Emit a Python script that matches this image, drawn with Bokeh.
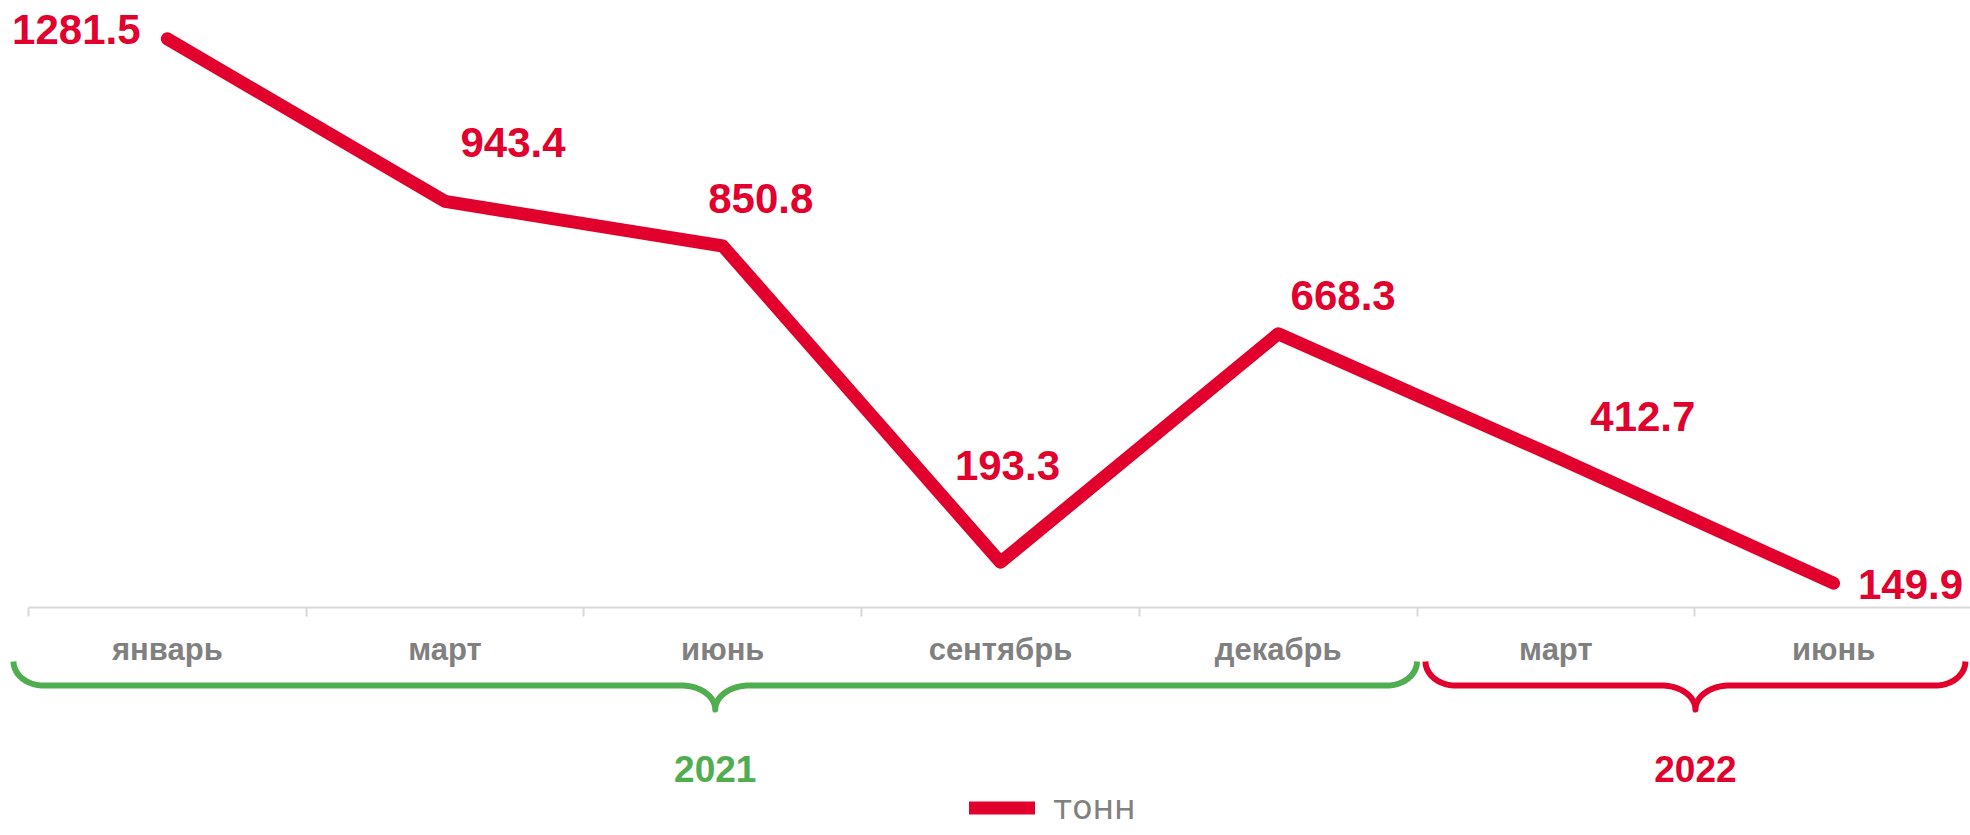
import numpy as np
from bokeh.plotting import figure
from bokeh.models import Range1d, FixedTicker
from bokeh.core.properties import value
from bokeh.embed import file_html
from bokeh.resources import INLINE

# ---------------- data ----------------
months = ["январь", "март", "июнь", "сентябрь", "декабрь", "март", "июнь"]
values = [1281.5, 943.4, 850.8, 193.3, 668.3, 412.7, 149.9]
years = ["2021", "2022"]
year_spans = [(0, 5), (5, 7)]          # bands covered by each year's brace
unit_label = "тонн"

# ---------------- style ----------------
RED = "#E2002D"
GREEN = "#50AE50"
GRAY = "#808080"
AXIS_GRAY = "#D9D9D9"
FONT = "Liberation Sans"

W, H = 1970, 835
band_px = 277.7          # width of one category band, px
left_px = 28.0           # frame x of the first band edge, px
axis_value = 100.0       # value at the x axis line
ypu = 0.4811             # px per unit on the value scale
axis_px = 606.7          # frame y of the axis line from top, px

x0 = -left_px / band_px
x1 = x0 + W / band_px
y1 = axis_value + axis_px / ypu
y0 = y1 - H / ypu

def vx(px):
    return x0 + px / band_px

def vy(py):
    return y1 - py / ypu

p = figure(width=W, height=H, x_range=Range1d(x0, x1), y_range=Range1d(y0, y1),
           output_backend="svg", toolbar_location=None, y_axis_location=None,
           min_border=0, outline_line_color=None, background_fill_color="white",
           border_fill_color="white")
p.grid.visible = False

xs = [i + 0.5 for i in range(len(values))]

# ---------------- axis ----------------
ax = p.xaxis[0]
ax.fixed_location = axis_value
ax.bounds = (0, len(months))
ax.ticker = FixedTicker(ticks=xs, minor_ticks=list(range(len(months) + 1)))
ax.major_label_overrides = {x: m for x, m in zip(xs, months)}
ax.major_tick_line_color = None
ax.major_tick_out = 0
ax.major_tick_in = 0
ax.minor_tick_line_color = AXIS_GRAY
ax.minor_tick_line_width = 2
ax.minor_tick_out = 9
ax.minor_tick_in = 0
ax.axis_line_color = AXIS_GRAY
ax.axis_line_width = 2
ax.major_label_standoff = 16
ax.major_label_text_font = FONT
ax.major_label_text_font_style = "bold"
ax.major_label_text_font_size = "31px"
ax.major_label_text_color = GRAY
ax.level = "underlay"

# ---------------- line ----------------
p.line(xs, values, line_width=13, line_color=RED, line_cap="round",
       line_join="round", legend_label=unit_label)

# ---------------- value labels ----------------
label_fs = 42
label_offsets = [(-91, -9), (68, -59), (38, -47), (7, -97), (65, -38), (87, -40), (77, 1)]
p.text(x=xs, y=values, text=[f"{v:.1f}" for v in values],
       x_offset=[o[0] for o in label_offsets],
       y_offset=[o[1] for o in label_offsets],
       text_align="center", text_baseline="alphabetic",
       text_font=value(FONT), text_font_style="bold",
       text_font_size=f"{label_fs}px", text_color=RED)

# ---------------- year braces ----------------
brace_pads = [(-15, 0), (8.5, -7)]
brace_colors = [GREEN, RED]
top, mid, tip = 661.0, 685.0, 709.0   # frame px
rx_e, rx_t, ry = 30.0, 34.0, 24.0
t = np.linspace(0, np.pi / 2, 24)
year_x = []
for (a, b), (pa, pb), c in zip(year_spans, brace_pads, brace_colors):
    xa = left_px + a * band_px + pa
    xb = left_px + b * band_px + pb
    xm = (xa + xb) / 2
    bx = np.concatenate([
        xa + rx_e - rx_e * np.cos(t),
        xm - rx_t + rx_t * np.sin(t),
        xm + rx_t - rx_t * np.cos(t),
        xb - rx_e + rx_e * np.sin(t),
    ])
    by = np.concatenate([
        top + ry * np.sin(t),
        tip - ry * np.cos(t),
        tip - ry * np.sin(t),
        top + ry * np.cos(t),
    ])
    p.line(vx(bx), vy(by), line_width=6, line_color=c, line_cap="butt", line_join="round")
    year_x.append(vx(xm))

year_base_px = 768.0
p.text(x=year_x, y=[vy(year_base_px)] * len(years), text=years,
       text_align="center", text_baseline="alphabetic",
       text_font=value(FONT), text_font_style="bold", text_font_size="37px",
       text_color=brace_colors)

# ---------------- legend ----------------
lg = p.legend[0]
lg.location = (969, 8)
lg.orientation = "horizontal"
lg.padding = 0
lg.margin = 0
lg.spacing = 0
lg.glyph_width = 66
lg.glyph_height = 15
lg.label_height = 15
lg.label_standoff = 18
lg.label_text_font = "DejaVu Sans"
lg.label_text_font_size = "33px"
lg.label_text_color = GRAY
lg.background_fill_alpha = 0
lg.border_line_alpha = 0

open("out.html", "w").write(file_html(p, INLINE))
